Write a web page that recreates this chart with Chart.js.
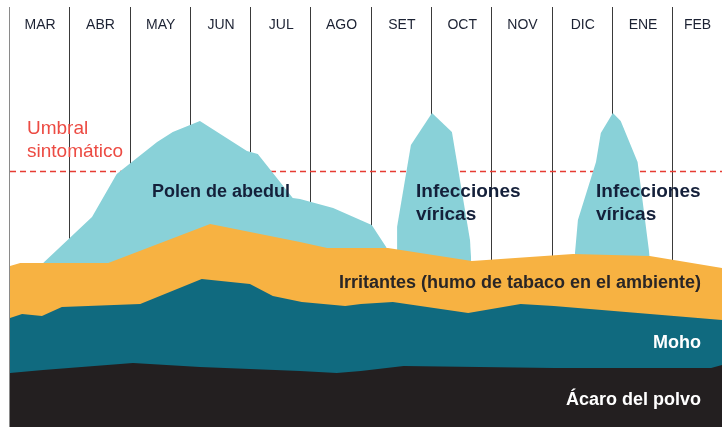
<!DOCTYPE html>
<html>
<head>
<meta charset="utf-8">
<script src="https://cdn.jsdelivr.net/npm/chart.js@4/dist/chart.umd.min.js"></script>
<style>
  body { margin: 0; background: #fff; }
  canvas { display: block; }
</style>
</head>
<body>
<canvas id="chart" width="722" height="427"></canvas>
<script>
// x = months since start of MAR, y = level above the bottom edge
const months = ["MAR", "ABR", "MAY", "JUN", "JUL", "AGO", "SET", "OCT", "NOV", "DIC", "ENE", "FEB"];
const xMax = 11.81; // FEB column is cut off at the right edge
const yMax = 427;
const threshold = 256;

// top edge of each layer
const acaro = [[0, 54], [0.55, 57], [2.04, 64], [3.15, 60], [3.98, 58], [4.81, 56], [5.42, 54],
  [5.82, 56], [6.53, 61], [9.02, 59], [11.63, 59], [11.81, 62]];
const moho = [[0, 109], [0.2, 113], [0.53, 111], [0.86, 120], [2.16, 123], [3.18, 148], [3.98, 143],
  [4.36, 131], [4.84, 125], [5.56, 121], [5.82, 123], [6.35, 125], [7.6, 114], [8.47, 123],
  [9.02, 121], [11.81, 107]];
const irritantes = [[0, 161], [0.17, 164], [1.63, 164], [3.32, 203], [4.81, 185], [5.26, 179],
  [6.27, 179], [7.66, 166], [9.34, 173], [10.61, 171], [11.81, 159]];
const polen = [[0.55, 164], [1.36, 210], [1.77, 253], [2.44, 285], [2.7, 295], [3.15, 306],
  [3.93, 276], [4.11, 273], [4.69, 229], [4.81, 228], [5.36, 219], [6.0, 202], [6.25, 179]];
const viral1 = [[6.42, 178], [6.42, 200], [6.65, 282], [7.0, 314], [7.33, 295], [7.63, 187], [7.65, 166]];
const viral2 = [[9.37, 173], [9.42, 207], [9.72, 265], [9.8, 294], [10.0, 314], [10.13, 306],
  [10.41, 265], [10.61, 171]];

const colors = {
  acaro: "#231f20",
  moho: "#106a7f",
  irritantes: "#f7b242",
  polen: "#89d1d8",
};

function toPoints(arr) {
  return arr.map(p => ({ x: p[0], y: p[1] }));
}

function layer(label, arr, color) {
  return {
    label: label,
    data: toPoints(arr),
    backgroundColor: color,
    borderWidth: 0,
    pointRadius: 0,
    tension: 0,
    fill: "start",
  };
}

const FONT = "'Liberation Sans', Arial, sans-serif";

// grid lines, threshold and text
const decorations = {
  id: "decorations",
  beforeDatasetsDraw(chart) {
    const ctx = chart.ctx;
    const x = chart.scales.x;
    const y = chart.scales.y;
    ctx.save();
    ctx.lineWidth = 1;
    for (let i = 0; i < months.length; i++) {
      const px = Math.round(x.getPixelForValue(i)) - 0.5;
      ctx.strokeStyle = i === 0 ? "#8a8a8a" : "#3a3a3a";
      ctx.beginPath();
      ctx.moveTo(px, 7);
      ctx.lineTo(px, chart.chartArea.bottom);
      ctx.stroke();
    }
    // threshold line
    const ty = Math.round(y.getPixelForValue(threshold)) + 0.5;
    ctx.strokeStyle = "#e63c33";
    ctx.lineWidth = 1.3;
    ctx.setLineDash([6, 4]);
    ctx.beginPath();
    ctx.moveTo(x.getPixelForValue(0), ty);
    ctx.lineTo(chart.chartArea.right, ty);
    ctx.stroke();
    ctx.restore();
  },
  afterDatasetsDraw(chart) {
    const ctx = chart.ctx;
    const x = chart.scales.x;
    ctx.save();
    ctx.textBaseline = "middle";

    // month labels
    ctx.font = "14px " + FONT;
    ctx.fillStyle = "#1c2233";
    ctx.textAlign = "center";
    months.forEach((m, i) => {
      const mid = Math.min(i + 1, xMax);
      ctx.fillText(m, x.getPixelForValue((i + mid) / 2), 25);
    });

    // threshold label
    ctx.textAlign = "left";
    ctx.font = "19px " + FONT;
    ctx.fillStyle = "#ec4b43";
    ctx.fillText("Umbral", 27, 129);
    ctx.fillText("sintomático", 27, 152);

    // area labels
    ctx.font = "bold 18px " + FONT;
    ctx.fillStyle = "#14203a";
    ctx.textAlign = "center";
    ctx.fillText("Polen de abedul", 221, 192);
    ctx.font = "bold 19px " + FONT;
    ctx.textAlign = "left";
    ctx.fillText("Infecciones", 416, 192);
    ctx.fillText("víricas", 416, 215);
    ctx.fillText("Infecciones", 596, 192);
    ctx.fillText("víricas", 596, 215);

    ctx.font = "bold 18px " + FONT;
    ctx.textAlign = "right";
    ctx.fillStyle = "#2a2626";
    ctx.fillText("Irritantes (humo de tabaco en el ambiente)", 701, 283);
    ctx.fillStyle = "#ffffff";
    ctx.fillText("Moho", 701, 343);
    ctx.fillText("Ácaro del polvo", 701, 400);
    ctx.restore();
  },
};

new Chart(document.getElementById("chart"), {
  type: "line",
  data: {
    datasets: [
      layer("Ácaro del polvo", acaro, colors.acaro),
      layer("Moho", moho, colors.moho),
      layer("Irritantes", irritantes, colors.irritantes),
      layer("Polen de abedul", polen, colors.polen),
      layer("Infecciones víricas", viral1, colors.polen),
      layer("Infecciones víricas", viral2, colors.polen),
    ],
  },
  options: {
    responsive: false,
    animation: false,
    layout: { padding: { left: 10, right: 0, top: 0, bottom: 0 } },
    plugins: {
      legend: { display: false },
      tooltip: { enabled: false },
    },
    scales: {
      x: { type: "linear", min: 0, max: xMax, display: false },
      y: { min: 0, max: yMax, display: false },
    },
  },
  plugins: [decorations],
});
</script>
</body>
</html>
